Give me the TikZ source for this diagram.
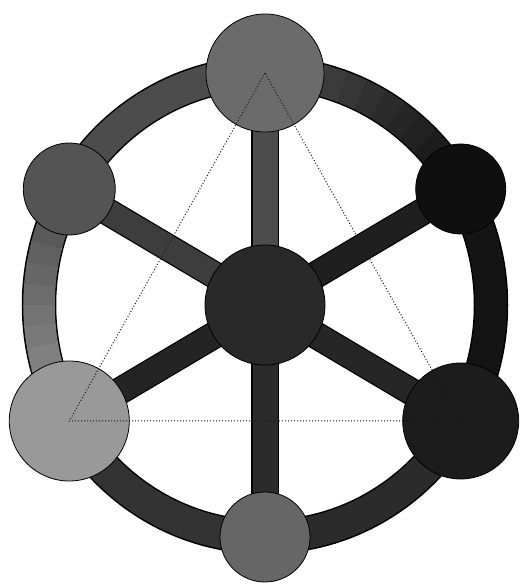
\documentclass[tikz,border=0pt]{standalone}
\usepackage{tikz}
\usetikzlibrary{calc,backgrounds}
% greys of the wheel
\definecolor{gTop}{gray}{0.42}
\definecolor{gUL}{gray}{0.33}
\definecolor{gUR}{gray}{0.06}
\definecolor{gMid}{gray}{0.16}
\definecolor{gLL}{gray}{0.60}
\definecolor{gLR}{gray}{0.11}
\definecolor{gBot}{gray}{0.40}
\begin{document}
\begin{tikzpicture}[x=1pt,y=1pt]
\tikzset{
  cn/.style={circle,draw=black,line width=0.8pt,inner sep=0pt},
  rb/.style={line width=34.5pt,draw=black},
  rf/.style={line width=31.5pt},
  sb/.style={line width=27.5pt,draw=black},
  sf/.style={line width=25pt},
  tr/.style={dotted,line width=1pt,draw=black!90}
}
\useasboundingbox (0,0) rectangle (528,587);
\coordinate (o) at (265,282);
\node[cn,fill=gTop,minimum size=118pt] (top) at ($(o)+(90:226 and 232)$) {};
\node[cn,fill=gUL,minimum size=92pt] (ul) at ($(o)+(150:226 and 232)$) {};
\node[cn,fill=gUR,minimum size=90pt] (ur) at ($(o)+(30:226 and 232)$) {};
\node[cn,fill=gMid,minimum size=120pt] (mid) at (o) {};
\node[cn,fill=gLL,minimum size=120pt] (ll) at ($(o)+(210:226 and 232)$) {};
\node[cn,fill=gLR,minimum size=116pt] (lr) at ($(o)+(330:226 and 232)$) {};
\node[cn,fill=gBot,minimum size=90pt] (bot) at ($(o)+(270:226 and 232)$) {};
\begin{scope}[on background layer]
\fill[white] (0,0) rectangle (528,587);
\draw[rb] (o) ellipse[x radius=226pt,y radius=232pt];
\foreach \a in {top,ul,ur,ll,lr,bot}{\draw[sb] (mid.center)--(\a.center);}
\foreach \s/\e/\c in {90/150.5/black!70,210/270.5/black!80,270/330.5/black!83,330/390.5/black!92}{
  \draw[rf,draw=\c] ($(o)+(\s:226 and 232)$) arc[start angle=\s,end angle=\e,x radius=226pt,y radius=232pt];}
% shaded arcs, step by step
\foreach \i in {0,...,11}{
  \pgfmathsetmacro{\s}{30+5*\i}\pgfmathsetmacro{\k}{93-2*\i}
  \draw[rf,draw=black!\k] ($(o)+(\s:226 and 232)$) arc[start angle=\s,end angle=\s+5.5,x radius=226pt,y radius=232pt];
  \pgfmathsetmacro{\t}{150+5*\i}\pgfmathsetmacro{\m}{70-2.5*\i}
  \draw[rf,draw=black!\m] ($(o)+(\t:226 and 232)$) arc[start angle=\t,end angle=\t+5.5,x radius=226pt,y radius=232pt];}
\foreach \a/\c in {top/black!70,ul/black!76,ur/black!88,ll/black!86,lr/black!85,bot/black!83}{\draw[sf,draw=\c] (mid.center)--(\a.center);}
\end{scope}
\draw[tr] (top.center)--(ll.center)--(lr.center)--cycle;
\end{tikzpicture}
\end{document}
